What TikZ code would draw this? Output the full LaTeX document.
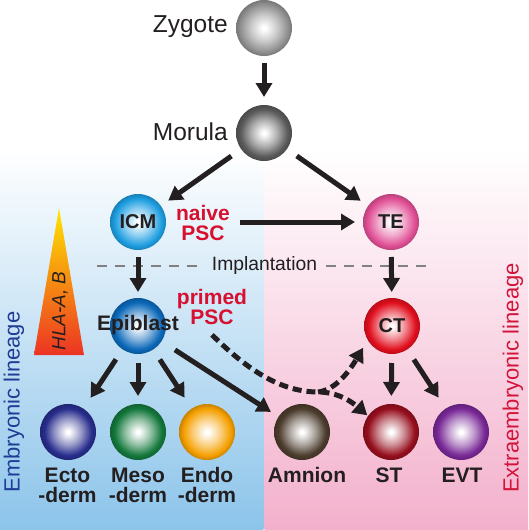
\documentclass[tikz,border=0pt]{standalone}
\usepackage{fontspec}
\setmainfont{Liberation Sans}
\usetikzlibrary{arrows.meta}
\definecolor{panelblue}{RGB}{140,196,234}
\definecolor{panelpink}{RGB}{243,176,204}
\definecolor{hlatop}{RGB}{255,230,0}
\definecolor{hlabot}{RGB}{236,52,36}
\definecolor{pscred}{RGB}{215,16,47}
\definecolor{embblue}{RGB}{31,60,150}
\definecolor{extred}{RGB}{210,20,58}
\definecolor{txt}{RGB}{35,31,32}
\definecolor{zygc}{RGB}{145,145,145}
\definecolor{morc}{RGB}{90,90,90}
\definecolor{icmc}{RGB}{30,158,225}
\definecolor{tec}{RGB}{225,80,150}
\definecolor{epic}{RGB}{12,105,185}
\definecolor{ctc}{RGB}{225,15,30}
\definecolor{ectc}{RGB}{40,45,140}
\definecolor{mesc}{RGB}{20,120,60}
\definecolor{endc}{RGB}{245,160,0}
\definecolor{amnc}{RGB}{75,60,45}
\definecolor{stc}{RGB}{150,15,30}
\definecolor{evtc}{RGB}{120,40,150}
\colorlet{sphc}{gray}
\pgfdeclareverticalshading{bluepanel}{100bp}{color(0bp)=(panelblue); color(25bp)=(panelblue); color(75bp)=(white); color(100bp)=(white)}
\pgfdeclareverticalshading{pinkpanel}{100bp}{color(0bp)=(panelpink); color(25bp)=(panelpink); color(75bp)=(white); color(100bp)=(white)}
\pgfdeclareverticalshading{hlashade}{100bp}{color(0bp)=(hlabot); color(25bp)=(hlabot); color(75bp)=(hlatop); color(100bp)=(hlatop)}
\pgfdeclareradialshading[sphc]{sphere}{\pgfpoint{0bp}{0bp}}{color(0bp)=(white); color(1.5bp)=(white); color(12bp)=(sphc!50!white); color(21bp)=(sphc); color(25bp)=(sphc!82!black); color(50bp)=(sphc!82!black)}
\tikzset{
  sph/.style={circle, minimum size=56pt, inner sep=0pt, outer sep=0pt,
    /utils/exec={\colorlet{sphc}{#1}}, shade, shading=sphere,
    font=\fontsize{20}{22}\selectfont\bfseries, text=txt},
  arr/.style={line width=5pt, color=txt, -{Triangle[length=14pt,width=16pt]}},
  dsh/.style={line width=5pt, color=txt, dash pattern=on 9pt off 5pt, -{Triangle[length=14pt,width=16pt]}},
  lbl/.style={font=\fontsize{21}{20}\selectfont\bfseries, text=txt, align=center, inner sep=0pt},
  big/.style={font=\fontsize{24.5}{26}\selectfont, text=txt, inner sep=0pt},
  psc/.style={font=\fontsize{21}{20}\selectfont\bfseries, text=pscred, align=center, inner sep=0pt},
  impl/.style={color=gray, line width=1.6pt, dash pattern=on 10pt off 8pt},
  lineage/.style={font=\fontsize{22}{24}\selectfont, rotate=90, inner sep=0pt},
}
\begin{document}
\begin{tikzpicture}[x=1pt,y=-1pt]
\useasboundingbox (0,0) rectangle (528,530);
% background panels
\shade[shading=bluepanel] (0,150) rectangle (263.3,530);
\shade[shading=pinkpanel] (264.7,150) rectangle (528,530);
% HLA triangle
\shade[shading=hlashade] (59,208) -- (84,355) -- (34,355) -- cycle;
\node[font=\fontsize{19}{21}\selectfont\itshape, text=txt, rotate=90, inner sep=0pt] (hla) at (60,311) {HLA-A, B};
% lineage labels
\node[lineage, text=embblue] (emb) at (14,402) {Embryonic lineage};
\node[lineage, text=extred] (ext) at (513,378) {Extraembryonic lineage};
% implantation line
\node[font=\fontsize{19.3}{21}\selectfont, text=txt, inner sep=0pt] (impl) at (264.5,266) {Implantation};
\coordinate (implL) at (97,266);
\coordinate (implR) at (432,266);
\draw[impl, shorten >=12pt] (implL) -- (impl.west);
\draw[impl, shorten <=9pt] (impl.east) -- (implR);
% spheres
\node[sph=zygc] (zyg) at (264,28) {};
\node[sph=morc] (mor) at (264,133) {};
\node[sph=icmc] (icm) at (138,222) {ICM};
\node[sph=tec] (te) at (391,222) {TE};
\node[sph=epic] (epi) at (138,326) {};
\node[sph=ctc] (ct) at (392,326) {CT};
\node[sph=ectc] (ect) at (68,432) {};
\node[sph=mesc] (mes) at (138,432) {};
\node[sph=endc] (endo) at (207,432) {};
\node[sph=amnc] (amn) at (302,432) {};
\node[sph=stc] (st) at (391,432) {};
\node[sph=evtc] (evt) at (461,432) {};
% texts
\node[big, anchor=east] (zygt) at (228,27) {Zygote};
\node[big, anchor=east] (mort) at (228,132) {Morula};
\node[psc] (naive) at (203,223) {naive\\PSC};
\node[psc] (primed) at (212,307) {primed\\PSC};
\node[lbl] (epit) at (138,325) {Epiblast};
\node[lbl] (ectt) at (67.5,485) {Ecto\\-derm};
\node[lbl] (mest) at (138,485) {Meso\\-derm};
\node[lbl] (endt) at (207,485) {Endo\\-derm};
\node[lbl] (amnt) at (307,475) {Amnion};
\node[lbl] (stt) at (389,475) {ST};
\node[lbl] (evtt) at (462,475) {EVT};
% arrows
\draw[arr, shorten <=7pt, shorten >=8pt] (zyg) -- (mor);
\draw[arr, shorten <=12pt, shorten >=9pt] (mor) -- (icm);
\draw[arr, shorten <=12pt, shorten >=9pt] (mor) -- (te);
\draw[arr, shorten <=74pt, shorten >=8pt] (icm) -- (te);
\draw[arr, shorten <=7pt, shorten >=6pt] (icm) -- (epi);
\draw[arr, shorten <=7pt, shorten >=6pt] (te) -- (ct);
\draw[arr, shorten <=12pt, shorten >=13pt] (epi) -- (ect);
\draw[arr, shorten <=9pt, shorten >=8pt] (epi) -- (mes);
\draw[arr, shorten <=12pt, shorten >=13pt] (epi) -- (endo);
\draw[arr, shorten <=16pt, shorten >=9pt] (epi) -- (amn);
\draw[arr, shorten <=9pt, shorten >=8pt] (ct) -- (st);
\draw[arr, shorten <=12pt, shorten >=13pt] (ct) -- (evt);
% dashed
\coordinate (jn) at (318,392);
\draw[dsh, shorten >=1pt] ([yshift=-10pt]primed.south) .. controls (240,362) and (275,392) .. (jn) .. controls (338,392) and (352,402) .. (st.145);
\draw[dsh, shorten >=9pt] (jn) .. controls (336,390) and (350,370) .. (ct.210);
\end{tikzpicture}
\end{document}
